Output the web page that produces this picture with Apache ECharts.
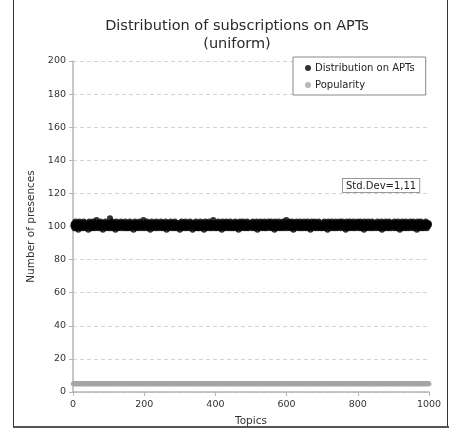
<!DOCTYPE html>
<html>
<head>
<meta charset="utf-8">
<script src="https://cdn.jsdelivr.net/npm/echarts@6/dist/echarts.min.js"></script>
<style>
  html, body { margin: 0; padding: 0; background: #fff; }
  #chart { width: 449px; height: 441px; }
</style>
</head>
<body>
<div id="chart"></div>
<script>
// Presences of each topic across the APTs (topics 1..1000)
const aptPresences = [
101,100,102,99,101,101,103,100,99,102,100,101,102,101,98,100,101,103,102,100,
99,101,100,102,101,100,101,99,102,103,101,100,100,102,101,99,101,102,100,101,
102,100,98,101,101,103,100,102,101,99,
100,102,101,101,99,100,103,101,102,100,101,99,102,101,100,104,101,100,102,101,
99,101,102,100,100,101,103,102,99,101,100,101,102,98,101,100,102,101,101,100,
103,99,100,102,101,100,101,102,100,99,
101,102,100,105,101,99,100,102,101,103,100,101,99,102,101,100,101,102,98,101,
100,103,101,100,102,99,101,101,100,102,101,100,99,102,103,101,100,101,102,100,
101,99,102,100,101,101,103,100,99,102,
100,101,102,101,99,100,102,101,100,103,101,99,101,102,100,101,100,102,101,98,
101,100,102,103,101,100,99,101,102,101,100,101,102,100,99,101,103,101,100,102,
101,100,101,99,102,101,100,104,101,100,
102,101,99,100,101,102,100,103,101,100,99,102,101,101,100,102,98,101,100,101,
103,102,100,99,101,101,102,100,101,100,102,99,101,103,100,101,102,101,100,99,
101,102,100,101,101,100,103,102,99,101,
100,101,102,100,99,101,102,101,100,103,101,100,98,102,101,100,101,102,99,101,
100,102,101,103,100,101,99,102,101,100,101,102,100,101,99,103,101,100,102,101,
100,99,101,102,101,100,102,101,100,98,
101,102,100,101,103,99,100,102,101,100,101,102,99,101,100,103,102,101,100,99,
101,102,101,100,102,100,101,99,103,101,100,102,101,101,100,98,102,101,100,101,
102,99,101,100,103,101,102,100,101,99,
100,102,101,99,101,100,102,103,101,100,99,101,102,100,101,102,101,98,100,101,
103,100,102,101,99,101,100,102,101,100,101,103,99,102,100,101,101,102,100,99,
102,101,100,104,101,100,102,99,101,101,
102,100,101,99,102,101,100,103,101,100,102,99,101,101,100,102,101,98,100,103,
101,102,100,99,101,100,102,101,101,100,103,99,102,101,100,101,102,100,99,101,
101,103,100,102,101,99,100,101,102,100,
101,99,102,100,101,103,100,101,102,99,101,100,102,101,98,101,100,102,103,101,
100,99,101,102,100,101,101,103,100,99,102,101,100,101,102,100,99,101,103,102,
100,101,99,102,101,100,101,102,100,101,
100,102,101,99,103,101,100,102,101,100,99,101,102,100,101,103,100,98,101,102,
101,100,99,102,101,100,103,101,102,100,99,101,100,102,101,101,100,103,99,101,
102,100,101,99,102,101,100,101,103,100,
101,100,102,101,99,100,103,101,102,100,101,99,101,102,100,98,101,103,100,101,
102,99,100,101,102,101,100,103,101,99,100,102,101,100,101,102,99,101,100,103,
101,102,100,99,101,101,102,100,104,101,
100,101,99,102,101,100,103,101,100,102,99,101,101,100,102,103,100,101,98,102,
101,100,99,101,102,100,101,103,101,100,102,99,101,100,101,102,100,103,99,101,
100,102,101,101,100,99,102,101,103,100,
102,100,101,99,101,102,100,101,103,100,99,102,101,100,101,102,98,101,100,103,
101,99,102,100,101,101,100,102,103,99,101,100,102,101,100,101,99,102,101,103,
100,101,102,100,99,101,101,100,102,101,
99,101,102,100,101,103,100,101,99,102,101,100,102,101,98,100,103,101,102,100,
99,101,100,102,101,101,103,100,99,102,101,100,101,102,100,99,101,103,101,100,
102,101,99,100,102,101,101,100,103,102,
100,99,101,102,100,101,103,101,100,102,99,101,100,102,101,98,101,100,103,102,
101,99,100,101,102,100,101,103,99,101,102,100,101,100,102,101,99,103,100,101,
101,102,100,99,101,102,100,101,103,100,
101,102,100,99,101,100,102,103,101,100,99,102,101,101,100,102,98,101,103,100,
101,102,99,100,101,102,101,100,103,99,101,100,102,101,100,101,102,99,101,103,
100,101,102,100,99,101,101,102,100,101,
102,100,101,99,103,101,100,102,101,100,101,99,102,100,101,103,101,98,100,102,
101,100,99,101,102,101,100,103,102,99,101,100,101,102,100,101,99,103,101,100,
102,101,100,99,101,102,101,100,102,101,
100,101,103,99,101,102,100,101,100,102,99,101,103,101,100,102,101,98,101,100,
102,101,99,100,103,101,102,100,101,99,101,102,100,101,103,100,99,101,102,101,
100,102,101,99,100,101,103,101,100,102,
101,100,102,99,101,103,100,101,102,100,99,101,102,101,100,98,101,103,102,100,
101,99,102,100,101,101,103,100,99,102,101,100,101,102,100,99,101,102,100,101,
103,101,100,99,102,101,100,101,102,101
];

// Popularity of each topic (uniform: same for every topic)
const popularity = [
5,5,5,5,5,5,5,5,5,5,5,5,5,5,5,5,5,5,5,5,5,5,5,5,5,5,5,5,5,5,5,5,5,5,5,5,5,5,5,5,5,5,5,5,5,5,5,5,5,5,
5,5,5,5,5,5,5,5,5,5,5,5,5,5,5,5,5,5,5,5,5,5,5,5,5,5,5,5,5,5,5,5,5,5,5,5,5,5,5,5,5,5,5,5,5,5,5,5,5,5,
5,5,5,5,5,5,5,5,5,5,5,5,5,5,5,5,5,5,5,5,5,5,5,5,5,5,5,5,5,5,5,5,5,5,5,5,5,5,5,5,5,5,5,5,5,5,5,5,5,5,
5,5,5,5,5,5,5,5,5,5,5,5,5,5,5,5,5,5,5,5,5,5,5,5,5,5,5,5,5,5,5,5,5,5,5,5,5,5,5,5,5,5,5,5,5,5,5,5,5,5,
5,5,5,5,5,5,5,5,5,5,5,5,5,5,5,5,5,5,5,5,5,5,5,5,5,5,5,5,5,5,5,5,5,5,5,5,5,5,5,5,5,5,5,5,5,5,5,5,5,5,
5,5,5,5,5,5,5,5,5,5,5,5,5,5,5,5,5,5,5,5,5,5,5,5,5,5,5,5,5,5,5,5,5,5,5,5,5,5,5,5,5,5,5,5,5,5,5,5,5,5,
5,5,5,5,5,5,5,5,5,5,5,5,5,5,5,5,5,5,5,5,5,5,5,5,5,5,5,5,5,5,5,5,5,5,5,5,5,5,5,5,5,5,5,5,5,5,5,5,5,5,
5,5,5,5,5,5,5,5,5,5,5,5,5,5,5,5,5,5,5,5,5,5,5,5,5,5,5,5,5,5,5,5,5,5,5,5,5,5,5,5,5,5,5,5,5,5,5,5,5,5,
5,5,5,5,5,5,5,5,5,5,5,5,5,5,5,5,5,5,5,5,5,5,5,5,5,5,5,5,5,5,5,5,5,5,5,5,5,5,5,5,5,5,5,5,5,5,5,5,5,5,
5,5,5,5,5,5,5,5,5,5,5,5,5,5,5,5,5,5,5,5,5,5,5,5,5,5,5,5,5,5,5,5,5,5,5,5,5,5,5,5,5,5,5,5,5,5,5,5,5,5,
5,5,5,5,5,5,5,5,5,5,5,5,5,5,5,5,5,5,5,5,5,5,5,5,5,5,5,5,5,5,5,5,5,5,5,5,5,5,5,5,5,5,5,5,5,5,5,5,5,5,
5,5,5,5,5,5,5,5,5,5,5,5,5,5,5,5,5,5,5,5,5,5,5,5,5,5,5,5,5,5,5,5,5,5,5,5,5,5,5,5,5,5,5,5,5,5,5,5,5,5,
5,5,5,5,5,5,5,5,5,5,5,5,5,5,5,5,5,5,5,5,5,5,5,5,5,5,5,5,5,5,5,5,5,5,5,5,5,5,5,5,5,5,5,5,5,5,5,5,5,5,
5,5,5,5,5,5,5,5,5,5,5,5,5,5,5,5,5,5,5,5,5,5,5,5,5,5,5,5,5,5,5,5,5,5,5,5,5,5,5,5,5,5,5,5,5,5,5,5,5,5,
5,5,5,5,5,5,5,5,5,5,5,5,5,5,5,5,5,5,5,5,5,5,5,5,5,5,5,5,5,5,5,5,5,5,5,5,5,5,5,5,5,5,5,5,5,5,5,5,5,5,
5,5,5,5,5,5,5,5,5,5,5,5,5,5,5,5,5,5,5,5,5,5,5,5,5,5,5,5,5,5,5,5,5,5,5,5,5,5,5,5,5,5,5,5,5,5,5,5,5,5,
5,5,5,5,5,5,5,5,5,5,5,5,5,5,5,5,5,5,5,5,5,5,5,5,5,5,5,5,5,5,5,5,5,5,5,5,5,5,5,5,5,5,5,5,5,5,5,5,5,5,
5,5,5,5,5,5,5,5,5,5,5,5,5,5,5,5,5,5,5,5,5,5,5,5,5,5,5,5,5,5,5,5,5,5,5,5,5,5,5,5,5,5,5,5,5,5,5,5,5,5,
5,5,5,5,5,5,5,5,5,5,5,5,5,5,5,5,5,5,5,5,5,5,5,5,5,5,5,5,5,5,5,5,5,5,5,5,5,5,5,5,5,5,5,5,5,5,5,5,5,5,
5,5,5,5,5,5,5,5,5,5,5,5,5,5,5,5,5,5,5,5,5,5,5,5,5,5,5,5,5,5,5,5,5,5,5,5,5,5,5,5,5,5,5,5,5,5,5,5,5,5
];

const seriesNames = ['Distribution on APTs', 'Popularity'];
const titleLines = ['Distribution of subscriptions on APTs', '(uniform)'];
const stdDevLabel = 'Std.Dev=1,11';
const xTicks = [0, 200, 400, 600, 800, 1000];
const yTicks = [0, 20, 40, 60, 80, 100, 120, 140, 160, 180, 200];

const FONT = 'DejaVu Sans';

const toPoints = arr => arr.map((v, i) => [i + 1, v]);

const chart = echarts.init(document.getElementById('chart'), null, { renderer: 'canvas' });

chart.setOption({
  backgroundColor: '#ffffff',
  animation: false,
  title: {
    text: titleLines.join('\n'),
    left: 232,
    textAlign: 'center',
    top: 12,
    textStyle: { fontFamily: FONT, fontSize: 14.5, fontWeight: 'normal', color: '#2a2a2a', lineHeight: 18 }
  },
  legend: {
    orient: 'vertical',
    left: 293,
    top: 57,
    data: seriesNames.map(n => ({ name: n, icon: 'circle' })),
    itemWidth: 6,
    itemHeight: 6,
    itemGap: 7,
    padding: [6, 11, 5, 12],
    borderColor: '#888',
    borderWidth: 1,
    backgroundColor: '#fff',
    textStyle: { fontFamily: FONT, fontSize: 10, color: '#222', padding: [0, 0, 0, -1] }
  },
  grid: { left: 73, right: 20, top: 61, bottom: 49 },
  xAxis: {
    type: 'value',
    min: xTicks[0],
    max: xTicks[xTicks.length - 1],
    interval: xTicks[1] - xTicks[0],
    name: 'Topics',
    nameLocation: 'middle',
    nameGap: 24,
    nameTextStyle: { fontFamily: FONT, fontSize: 10.5, color: '#333' },
    axisLine: { show: true, lineStyle: { color: '#b5b5b5', width: 1.5 } },
    axisTick: { show: true, length: 4, lineStyle: { color: '#b5b5b5' } },
    axisLabel: { fontFamily: FONT, fontSize: 9.5, color: '#333', margin: 8, formatter: v => String(v) },
    splitLine: { show: false }
  },
  yAxis: {
    type: 'value',
    min: yTicks[0],
    max: yTicks[yTicks.length - 1],
    interval: yTicks[1] - yTicks[0],
    name: 'Number of presences',
    nameLocation: 'middle',
    nameGap: 35,
    nameTextStyle: { fontFamily: FONT, fontSize: 10.5, color: '#333' },
    axisLine: { show: true, lineStyle: { color: '#b5b5b5', width: 1.5 } },
    axisTick: { show: true, length: 4, lineStyle: { color: '#b5b5b5' } },
    axisLabel: { fontFamily: FONT, fontSize: 9.5, color: '#333', margin: 7, formatter: v => String(v) },
    splitLine: { show: true, lineStyle: { color: '#d4d4d4', type: [4, 3], width: 1 } }
  },
  series: [
    {
      name: seriesNames[0],
      type: 'scatter',
      data: toPoints(aptPresences),
      symbol: 'circle',
      symbolSize: 6,
      itemStyle: { color: '#000' },
      z: 3
    },
    {
      name: seriesNames[1],
      type: 'scatter',
      data: toPoints(popularity),
      symbol: 'circle',
      symbolSize: 5,
      itemStyle: { color: '#a6a6a6' },
      z: 2
    }
  ],
  graphic: [
    {
      type: 'rect',
      shape: { x: 13.5, y: -2, width: 434, height: 429 },
      style: { fill: 'none', stroke: '#333', lineWidth: 1 },
      silent: true,
      z: 0
    },
    {
      type: 'line',
      shape: { x1: 13, y1: 427, x2: 449, y2: 427 },
      style: { stroke: '#555', lineWidth: 2 },
      silent: true
    },
    {
      type: 'text',
      left: 342,
      top: 178,
      style: {
        text: stdDevLabel,
        fontFamily: FONT,
        fontSize: 10,
        fill: '#222',
        backgroundColor: '#fff',
        borderColor: '#999',
        borderWidth: 1,
        padding: [2, 3, 1, 3]
      },
      z: 10
    }
  ]
});
</script>
</body>
</html>
